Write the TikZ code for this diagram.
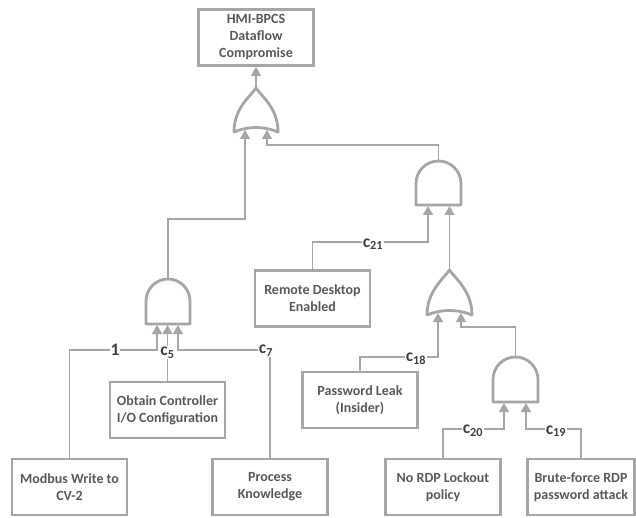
\documentclass[tikz,border=0pt]{standalone}
\usepackage{fontspec}
\setmainfont{Carlito}
\usetikzlibrary{arrows.meta}
\definecolor{lg}{HTML}{A6A6A6}
\definecolor{tg}{HTML}{595959}
\definecolor{lab}{HTML}{404040}
\newcommand\andg[4]{%
 \draw[gate] (#1,#2+#4) -- (#1+#3,#2+#4) -- (#1+#3,#2+#3/2) arc[start angle=0,end angle=-180,radius=#3/2] -- cycle;}
\newcommand\org[4]{%
 \draw[gate] (#1+#3/2,#2) .. controls (#1+#3*0.62,#2+8) and (#1+#3,#2+#4-24) .. (#1+#3,#2+#4) .. controls (#1+#3-14,#2+#4-6) and (#1+14,#2+#4-6) .. (#1,#2+#4) .. controls (#1,#2+#4-24) and (#1+#3*0.38,#2+8) .. cycle;}
\begin{document}
\begin{tikzpicture}[x=1pt,y=-1pt,
 box/.style={draw=lg, line width=2.7pt, minimum width=115pt, minimum height=56pt, inner sep=1pt, align=center, text=tg, font=\fontsize{14}{17}\selectfont\bfseries},
 wire/.style={draw=lg, line width=1.4pt},
 arr/.style={wire, -{Triangle[width=10pt,length=9pt]}},
 gate/.style={draw=lg, line width=2.8pt, line join=round},
 lbl/.style={fill=white, inner sep=1pt, text=lab, font=\fontsize{17.5}{19}\selectfont\bfseries}]
\fill[white] (0,0) rectangle (636,518);
\useasboundingbox (0,0) rectangle (636,518);
% boxes
\node[box] (top) at (256,37.5) {HMI-BPCS\\Dataflow\\Compromise};
\node[box] (remote) at (312.5,298.5) {Remote Desktop\\Enabled};
\node[box] (pwleak) at (360,400) {Password Leak\\(Insider)};
\node[box] (obtain) at (167.5,410) {Obtain Controller\\I/O Configuration};
\node[box] (modbus) at (69.5,487) {Modbus Write to\\CV-2};
\node[box] (process) at (270,487) {Process\\Knowledge};
\node[box] (nordp) at (443,487) {No RDP Lockout\\policy};
\node[box, minimum width=107pt] (brute) at (581,487) {Brute-force RDP\\password attack};
% gates
\andg{146}{279}{44}{45}
\org{234}{88}{44}{44}
\andg{416}{161}{45}{44}
\org{427}{270}{45}{45}
\andg{493}{357}{45}{45}
\coordinate (o1out) at (256,88);
\coordinate (o1a) at (245,130);
\coordinate (o1b) at (267,130);
\coordinate (a1out) at (168,279);
\coordinate (a1a) at (157,325);
\coordinate (a1b) at (167.5,325);
\coordinate (a1c) at (178,325);
\coordinate (a2out) at (438.5,161);
\coordinate (a2a) at (428,206);
\coordinate (a2b) at (449.5,206);
\coordinate (o2out) at (449.5,270);
\coordinate (o2a) at (438,313);
\coordinate (o2b) at (461,313);
\coordinate (a3out) at (515.5,357);
\coordinate (a3a) at (504,403);
\coordinate (a3b) at (526,403);
% connectors
\draw[arr] (o1out) -- (top.south);
\draw[arr] (a1out) -- (168,219) -| (o1a);
\draw[arr] (a2out) -- (438.5,145) -| (o1b);
\draw[arr] (remote.north) -- (312.5,242) -| (a2a);
\draw[arr] (o2out) -- (a2b);
\draw[arr] (pwleak.north) -- (360,357) -| (o2a);
\draw[arr] (a3out) -- (515.5,327) -| (o2b);
\draw[arr] (nordp.north) -- (443,429) -| (a3a);
\draw[arr] (brute.north) -- (581,429) -| (a3b);
\draw[arr] (modbus.north) -- (69.5,350) -| (a1a);
\draw[arr] (obtain.north) -- (a1b);
\draw[arr] (process.north) -- (270,350) -| (a1c);
% labels
\node[lbl] (l1) at (115,350) {1};
\node[lbl, anchor=north] (l5) at (167.5,346) {c\textsubscript{5}};
\node[lbl, anchor=north] (l7) at (266,344) {c\textsubscript{7}};
\node[lbl] (l18) at (416,359) {c\textsubscript{18}};
\node[lbl] (l20) at (473,431) {c\textsubscript{20}};
\node[lbl] (l19) at (556,431) {c\textsubscript{19}};
\node[lbl] (l21) at (373,244) {c\textsubscript{21}};
\end{tikzpicture}
\end{document}
